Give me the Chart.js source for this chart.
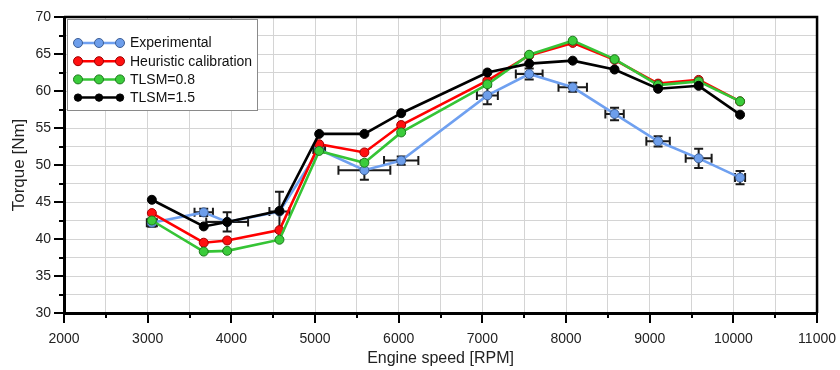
<!DOCTYPE html>
<html>
<head>
<meta charset="utf-8">
<script src="https://cdn.jsdelivr.net/npm/chart.js@4.4.1/dist/chart.umd.min.js"></script>
<style>
  html, body { margin: 0; padding: 0; background: #fff; }
  #wrap { width: 840px; height: 370px; }
</style>
</head>
<body>
<div id="wrap"><canvas id="torqueChart" width="840" height="370"></canvas></div>
<script>
// engine speed of each measured point [RPM]
const rpm = [3050, 3670, 3950, 4575, 5050, 5590, 6030, 7060, 7560, 8080, 8580, 9100, 9585, 10080];

// torque [Nm]
const experimental = [42.2, 43.6, 42.3, 43.7, 52.1, 49.3, 50.6, 59.4, 62.3, 60.5, 56.9, 53.2, 50.9, 48.3];
const heuristic    = [43.5, 39.5, 39.8, 41.2, 52.8, 51.7, 55.4, 61.4, 64.8, 66.5, 64.2, 61.0, 61.5, 58.6];
const tlsm08       = [42.5, 38.3, 38.4, 39.9, 51.9, 50.3, 54.4, 60.9, 64.9, 66.8, 64.3, 60.8, 61.3, 58.6];
const tlsm15       = [45.3, 41.7, 42.3, 43.8, 54.2, 54.2, 57.0, 62.5, 63.7, 64.1, 62.9, 60.3, 60.7, 56.8];

// error bars of the experimental points (half widths)
const rpmErr    = [60, 110, 250, 120, 70, 310, 205, 125, 160, 170, 110, 140, 155, 60];
const torqueErr = [0.55, 0.5, 1.3, 2.7, 0.4, 1.3, 0.55, 1.2, 0.75, 0.6, 0.85, 0.7, 1.3, 0.9];

const seriesLabels = ['Experimental', 'Heuristic calibration', 'TLSM=0.8', 'TLSM=1.5'];

// axis ticks
const xTicks = [2000, 3000, 4000, 5000, 6000, 7000, 8000, 9000, 10000, 11000];
const yTicks = [30, 35, 40, 45, 50, 55, 60, 65, 70];

const tickFont = '"Liberation Sans Narrow", "Arial Narrow", "Liberation Sans", Arial, sans-serif';
const textFont = '"Liberation Sans", Arial, sans-serif';

function toPoints(values) {
    return values.map((v, i) => ({ x: rpm[i], y: v }));
}

// error bars for the experimental data, drawn just before its line and markers
const errorBarPlugin = {
    id: 'errorBars',
    beforeDatasetDraw(chart, args) {
        if (args.index !== 0) return;
        const ctx = chart.ctx;
        const xs = chart.scales.x;
        const ys = chart.scales.y;
        const cap = 4.5;
        ctx.save();
        ctx.strokeStyle = '#1a1a1a';
        ctx.lineWidth = 2;
        experimental.forEach((v, i) => {
            const px = xs.getPixelForValue(rpm[i]);
            const py = ys.getPixelForValue(v);
            const x0 = xs.getPixelForValue(rpm[i] - rpmErr[i]);
            const x1 = xs.getPixelForValue(rpm[i] + rpmErr[i]);
            const y0 = ys.getPixelForValue(v - torqueErr[i]);
            const y1 = ys.getPixelForValue(v + torqueErr[i]);
            ctx.beginPath();
            // vertical bar + caps
            ctx.moveTo(px, y0); ctx.lineTo(px, y1);
            ctx.moveTo(px - cap, y0); ctx.lineTo(px + cap, y0);
            ctx.moveTo(px - cap, y1); ctx.lineTo(px + cap, y1);
            // horizontal bar + caps
            ctx.moveTo(x0, py); ctx.lineTo(x1, py);
            ctx.moveTo(x0, py - cap); ctx.lineTo(x0, py + cap);
            ctx.moveTo(x1, py - cap); ctx.lineTo(x1, py + cap);
            ctx.stroke();
        });
        ctx.restore();
    }
};

// frame, tick marks and legend box
const framePlugin = {
    id: 'frame',
    afterDraw(chart) {
        const ctx = chart.ctx;
        const a = chart.chartArea;
        const xs = chart.scales.x;
        const ys = chart.scales.y;
        ctx.save();
        ctx.strokeStyle = '#000';
        ctx.lineCap = 'butt';

        // top and right border
        ctx.lineWidth = 2.5;
        ctx.beginPath();
        ctx.moveTo(a.left, a.top); ctx.lineTo(a.right, a.top); ctx.lineTo(a.right, a.bottom);
        ctx.stroke();

        // ticks (major 10px, minor 5px)
        ctx.lineWidth = 2;
        ctx.beginPath();
        for (let v = 2000; v <= 11000; v += 500) {
            const px = Math.round(xs.getPixelForValue(v));
            const len = v % 1000 === 0 ? 10 : 5;
            ctx.moveTo(px, a.bottom); ctx.lineTo(px, a.bottom + len);
        }
        for (let v = 30; v <= 70; v += 2.5) {
            const py = Math.round(ys.getPixelForValue(v));
            const len = v % 5 === 0 ? 10 : 5;
            ctx.moveTo(a.left, py); ctx.lineTo(a.left - len, py);
        }
        ctx.stroke();

        // legend
        const bx = 67, by = 19, bw = 190, bh = 91;
        ctx.fillStyle = '#fff';
        ctx.fillRect(bx, by, bw, bh);
        ctx.strokeStyle = '#8a8a8a';
        ctx.lineWidth = 1;
        ctx.strokeRect(bx + 0.5, by + 0.5, bw, bh);

        ctx.font = '14px ' + textFont;
        ctx.textBaseline = 'middle';
        ctx.textAlign = 'left';
        chart.data.datasets.forEach((ds, i) => {
            const y = 43 + i * 18.2;
            ctx.strokeStyle = ds.borderColor;
            ctx.lineWidth = 2.5;
            ctx.beginPath();
            ctx.moveTo(76, y); ctx.lineTo(121, y);
            ctx.stroke();
            [78, 99, 120].forEach(cx => {
                ctx.beginPath();
                ctx.arc(cx, y, ds.pointRadius - (i === 3 ? 0.8 : 0), 0, Math.PI * 2);
                ctx.fillStyle = ds.pointBackgroundColor;
                ctx.fill();
                ctx.lineWidth = 1;
                ctx.strokeStyle = ds.pointBorderColor;
                ctx.stroke();
            });
            ctx.fillStyle = '#111';
            ctx.fillText(ds.label, 130, y + 0.5);
        });
        ctx.restore();
    }
};

function makeSet(label, values, line, fill, edge, order) {
    return {
        label: label,
        data: toPoints(values),
        borderColor: line,
        borderWidth: 2.6,
        pointBackgroundColor: fill,
        pointBorderColor: edge,
        pointBorderWidth: 1,
        pointRadius: 4.5,
        pointHoverRadius: 4.5,
        tension: 0,
        fill: false,
        order: order
    };
}

const ctx = document.getElementById('torqueChart').getContext('2d');
new Chart(ctx, {
    type: 'line',
    data: {
        datasets: [
            makeSet(seriesLabels[0], experimental, '#6fa0f0', '#6d9eeb', '#3d5f96', 4),
            makeSet(seriesLabels[1], heuristic, '#ff0000', '#ff1010', '#a00000', 3),
            makeSet(seriesLabels[2], tlsm08, '#35c435', '#3bcc3b', '#1c7a1c', 2),
            makeSet(seriesLabels[3], tlsm15, '#000000', '#000000', '#000000', 1)
        ]
    },
    options: {
        responsive: false,
        animation: false,
        events: [],
        layout: { padding: { top: 17, right: 21, left: 0, bottom: 0 } },
        plugins: {
            legend: { display: false },
            tooltip: { enabled: false }
        },
        scales: {
            x: {
                type: 'linear',
                min: 2000,
                max: 11000,
                afterFit: s => { s.height = 57; },
                grid: {
                    color: '#d4d4d4',
                    lineWidth: 1,
                    tickLength: 14,
                    tickColor: 'transparent'
                },
                border: { color: '#000', width: 3 },
                ticks: {
                    stepSize: 500,
                    autoSkip: false,
                    maxRotation: 0,
                    padding: 4,
                    color: '#222',
                    font: { family: tickFont, size: 14 },
                    callback: v => xTicks.includes(v) ? String(v) : ''
                },
                title: {
                    display: true,
                    text: 'Engine speed [RPM]',
                    color: '#222',
                    font: { family: textFont, size: 16 },
                    padding: { top: 0, bottom: 2 }
                }
            },
            y: {
                min: 30,
                max: 70,
                afterFit: s => { s.width = 64; },
                grid: {
                    color: '#d4d4d4',
                    lineWidth: 1,
                    tickLength: 10,
                    tickColor: 'transparent'
                },
                border: { color: '#000', width: 3 },
                ticks: {
                    stepSize: 2.5,
                    autoSkip: false,
                    padding: 3,
                    color: '#222',
                    font: { family: tickFont, size: 14 },
                    callback: v => yTicks.includes(v) ? String(v) : ''
                },
                title: {
                    display: true,
                    text: 'Torque [Nm]',
                    color: '#222',
                    font: { family: textFont, size: 17 },
                    padding: { top: 9, bottom: 0 }
                }
            }
        }
    },
    plugins: [errorBarPlugin, framePlugin]
});
</script>
</body>
</html>
